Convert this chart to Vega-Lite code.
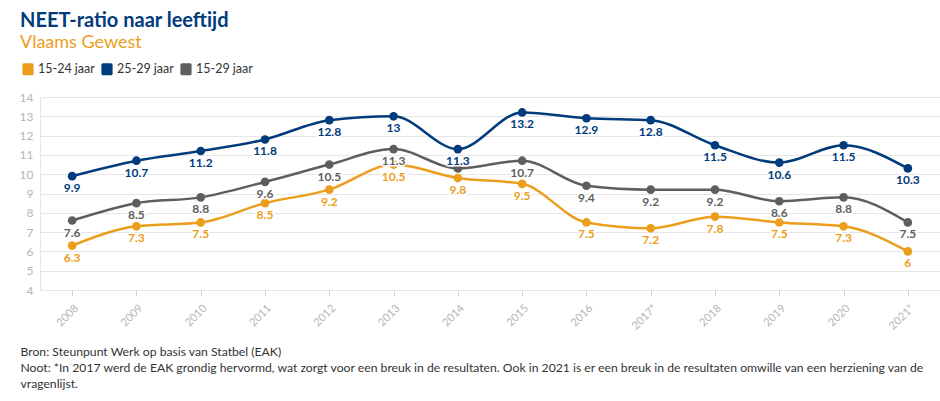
{
  "$schema": "https://vega.github.io/schema/vega-lite/v6.json",
  "width": 900,
  "height": 193,
  "autosize": {"type": "none"},
  "padding": {"left": 40, "top": 97, "right": 0, "bottom": 111},
  "background": "white",
  "title": {
    "text": "NEET-ratio naar leeftijd",
    "subtitle": "Vlaams Gewest",
    "anchor": "start",
    "frame": "group",
    "dx": -20,
    "offset": 9,
    "font": "Lato",
    "fontSize": 20,
    "fontWeight": "bold",
    "color": "#003b7c",
    "subtitleFont": "Lato",
    "subtitleFontSize": 18,
    "subtitleColor": "#eb9e1b",
    "subtitlePadding": 3
  },
  "data": {
    "values": [
      {"jaar": "2008", "groep": "15-24 jaar", "ratio": 6.3},
      {"jaar": "2009", "groep": "15-24 jaar", "ratio": 7.3},
      {"jaar": "2010", "groep": "15-24 jaar", "ratio": 7.5},
      {"jaar": "2011", "groep": "15-24 jaar", "ratio": 8.5},
      {"jaar": "2012", "groep": "15-24 jaar", "ratio": 9.2},
      {"jaar": "2013", "groep": "15-24 jaar", "ratio": 10.5},
      {"jaar": "2014", "groep": "15-24 jaar", "ratio": 9.8},
      {"jaar": "2015", "groep": "15-24 jaar", "ratio": 9.5},
      {"jaar": "2016", "groep": "15-24 jaar", "ratio": 7.5},
      {"jaar": "2017*", "groep": "15-24 jaar", "ratio": 7.2},
      {"jaar": "2018", "groep": "15-24 jaar", "ratio": 7.8},
      {"jaar": "2019", "groep": "15-24 jaar", "ratio": 7.5},
      {"jaar": "2020", "groep": "15-24 jaar", "ratio": 7.3},
      {"jaar": "2021*", "groep": "15-24 jaar", "ratio": 6},
      {"jaar": "2008", "groep": "25-29 jaar", "ratio": 9.9},
      {"jaar": "2009", "groep": "25-29 jaar", "ratio": 10.7},
      {"jaar": "2010", "groep": "25-29 jaar", "ratio": 11.2},
      {"jaar": "2011", "groep": "25-29 jaar", "ratio": 11.8},
      {"jaar": "2012", "groep": "25-29 jaar", "ratio": 12.8},
      {"jaar": "2013", "groep": "25-29 jaar", "ratio": 13},
      {"jaar": "2014", "groep": "25-29 jaar", "ratio": 11.3},
      {"jaar": "2015", "groep": "25-29 jaar", "ratio": 13.2},
      {"jaar": "2016", "groep": "25-29 jaar", "ratio": 12.9},
      {"jaar": "2017*", "groep": "25-29 jaar", "ratio": 12.8},
      {"jaar": "2018", "groep": "25-29 jaar", "ratio": 11.5},
      {"jaar": "2019", "groep": "25-29 jaar", "ratio": 10.6},
      {"jaar": "2020", "groep": "25-29 jaar", "ratio": 11.5},
      {"jaar": "2021*", "groep": "25-29 jaar", "ratio": 10.3},
      {"jaar": "2008", "groep": "15-29 jaar", "ratio": 7.6},
      {"jaar": "2009", "groep": "15-29 jaar", "ratio": 8.5},
      {"jaar": "2010", "groep": "15-29 jaar", "ratio": 8.8},
      {"jaar": "2011", "groep": "15-29 jaar", "ratio": 9.6},
      {"jaar": "2012", "groep": "15-29 jaar", "ratio": 10.5},
      {"jaar": "2013", "groep": "15-29 jaar", "ratio": 11.3},
      {"jaar": "2014", "groep": "15-29 jaar", "ratio": 10.3},
      {"jaar": "2015", "groep": "15-29 jaar", "ratio": 10.7},
      {"jaar": "2016", "groep": "15-29 jaar", "ratio": 9.4},
      {"jaar": "2017*", "groep": "15-29 jaar", "ratio": 9.2},
      {"jaar": "2018", "groep": "15-29 jaar", "ratio": 9.2},
      {"jaar": "2019", "groep": "15-29 jaar", "ratio": 8.6},
      {"jaar": "2020", "groep": "15-29 jaar", "ratio": 8.8},
      {"jaar": "2021*", "groep": "15-29 jaar", "ratio": 7.5}
    ]
  },
  "encoding": {
    "x": {
      "field": "jaar",
      "type": "ordinal",
      "sort": null,
      "scale": {"type": "point", "padding": 0.5},
      "axis": {
        "labelAngle": -45,
        "labelColor": "#b5b5b5",
        "labelFontSize": 11,
        "labelFont": "Lato",
        "labelPadding": 6,
        "tickColor": "#d0d0d0",
        "tickSize": 6,
        "domain": false,
        "grid": false,
        "title": [
          "Bron: Steunpunt Werk op basis van Statbel (EAK)",
          "Noot: *In 2017 werd de EAK grondig hervormd, wat zorgt voor een breuk in de resultaten. Ook in 2021 is er een breuk in de resultaten omwille van een herziening van de",
          "vragenlijst."
        ],
        "titleFont": "Lato",
        "titleFontSize": 12.2,
        "titleFontWeight": "normal",
        "titleColor": "#333333",
        "titleAnchor": "start",
        "titleAlign": "left",
        "titleBaseline": "top",
        "titleLineHeight": 16,
        "titleX": -20,
        "titleY": 55
      }
    },
    "y": {
      "field": "ratio",
      "type": "quantitative",
      "scale": {"domain": [4, 14], "nice": false},
      "axis": {
        "values": [4, 5, 6, 7, 8, 9, 10, 11, 12, 13, 14],
        "title": null,
        "ticks": false,
        "domain": true,
        "domainColor": "#e6e6e6",
        "gridColor": "#e6e6e6",
        "labelColor": "#b5b5b5",
        "labelFontSize": 12,
        "labelFont": "Lato",
        "labelPadding": 7
      }
    },
    "color": {
      "field": "groep",
      "type": "nominal",
      "scale": {"domain": ["15-24 jaar", "25-29 jaar", "15-29 jaar"], "range": ["#eb9e1b", "#003b7c", "#5e5e5e"]},
      "legend": {
        "title": null,
        "orient": "none",
        "direction": "horizontal",
        "legendX": -20,
        "legendY": -36,
        "symbolType": "M-0.5,-0.75 L0.5,-0.75 Q0.7,-0.75 0.7,-0.55 L0.7,0.55 Q0.7,0.75 0.5,0.75 L-0.5,0.75 Q-0.7,0.75 -0.7,0.55 L-0.7,-0.55 Q-0.7,-0.75 -0.5,-0.75 Z",
        "symbolSize": 256,
        "symbolOpacity": 1,
        "symbolStrokeWidth": 0,
        "labelFont": "Lato",
        "labelFontSize": 12.5,
        "labelColor": "#333333",
        "labelOffset": 2,
        "columnPadding": 4
      }
    }
  },
  "layer": [
    {
      "mark": {"type": "line", "interpolate": "monotone", "strokeWidth": 2.5}
    },
    {
      "mark": {"type": "circle", "size": 75, "opacity": 1}
    },
    {
      "transform": [{"filter": "!(datum.groep == '15-29 jaar' && datum.jaar == '2014')"}],
      "mark": {"type": "text", "dy": 12, "font": "Lato", "fontSize": 12, "fontWeight": "bold", "stroke": "white", "strokeWidth": 3, "strokeJoin": "round"},
      "encoding": {
        "text": {"field": "ratio", "type": "quantitative"},
        "color": {"value": "white"}
      }
    },
    {
      "transform": [{"filter": "!(datum.groep == '15-29 jaar' && datum.jaar == '2014')"}],
      "mark": {"type": "text", "dy": 12, "font": "Lato", "fontSize": 12, "fontWeight": "bold"},
      "encoding": {"text": {"field": "ratio", "type": "quantitative"}}
    }
  ],
  "config": {
    "view": {"stroke": null}
  }
}
